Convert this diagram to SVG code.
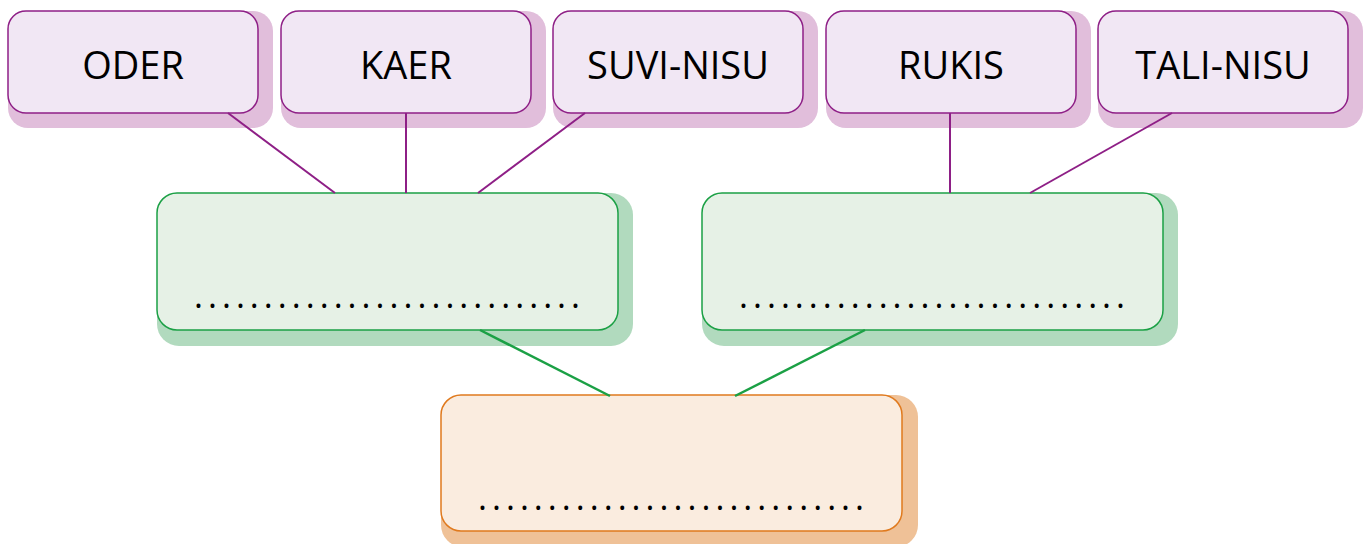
<svg xmlns="http://www.w3.org/2000/svg" width="1370" height="544" viewBox="0 0 1370 544">
<style>
.ts{fill:#E1BEDB}
.tb{fill:#F1E7F4;stroke:#8E1F86;stroke-width:1.5}
.gs{fill:#B1DABE}
.gb{fill:#E6F1E6;stroke:#1BA045;stroke-width:1.5}
.os{fill:#EFC197}
.ob{fill:#FAECDF;stroke:#E07A1E;stroke-width:1.5}
.lbl{font-family:"Open Sans","Liberation Sans",sans-serif;font-size:38px;fill:#000;text-anchor:middle}
.dots{font-family:"Open Sans","Liberation Sans",sans-serif;font-size:34px;fill:#000}
.pl{stroke:#8E1F86;stroke-width:2;fill:none}
.gl{stroke:#1BA045;stroke-width:2.5;fill:none}
</style>
<rect width="1370" height="544" fill="#fff"/>
<g id="oder">
<rect class="ts" x="8" y="11" width="265" height="117" rx="20"/>
<rect class="tb" x="8" y="11" width="250" height="102" rx="18"/>
<text class="lbl" x="133" y="79">ODER</text>
</g>
<g id="kaer">
<rect class="ts" x="281" y="11" width="265" height="117" rx="20"/>
<rect class="tb" x="281" y="11" width="250" height="102" rx="18"/>
<text class="lbl" x="406" y="79">KAER</text>
</g>
<g id="suvi-nisu">
<rect class="ts" x="553" y="11" width="265" height="117" rx="20"/>
<rect class="tb" x="553" y="11" width="250" height="102" rx="18"/>
<text class="lbl" x="678" y="79">SUVI-NISU</text>
</g>
<g id="rukis">
<rect class="ts" x="826" y="11" width="265" height="117" rx="20"/>
<rect class="tb" x="826" y="11" width="250" height="102" rx="18"/>
<text class="lbl" x="951" y="79">RUKIS</text>
</g>
<g id="tali-nisu">
<rect class="ts" x="1098" y="11" width="265" height="117" rx="20"/>
<rect class="tb" x="1098" y="11" width="250" height="102" rx="18"/>
<text class="lbl" x="1223" y="79">TALI-NISU</text>
</g>
<g id="green-left">
<rect class="gs" x="157" y="193" width="476" height="153" rx="22"/>
<rect class="gb" x="157" y="193" width="461" height="137" rx="20"/>
<text class="dots" x="194" y="308" textLength="386" lengthAdjust="spacing">............................</text>
</g>
<g id="green-right">
<rect class="gs" x="702" y="193" width="476" height="153" rx="22"/>
<rect class="gb" x="702" y="193" width="461" height="137" rx="20"/>
<text class="dots" x="739" y="308" textLength="386" lengthAdjust="spacing">............................</text>
</g>
<g id="orange">
<rect class="os" x="441" y="395" width="477" height="152" rx="22"/>
<rect class="ob" x="441" y="395" width="461" height="136" rx="20"/>
<text class="dots" x="478" y="510" textLength="386" lengthAdjust="spacing">............................</text>
</g>
<g id="connectors">
<line class="pl" x1="228" y1="113" x2="335" y2="193"/>
<line class="pl" x1="406" y1="113" x2="406" y2="193"/>
<line class="pl" x1="585" y1="113" x2="478" y2="193"/>
<line class="pl" x1="950" y1="113" x2="950" y2="193"/>
<line class="pl" x1="1172" y1="113" x2="1030" y2="193"/>
<line class="gl" x1="480" y1="330" x2="610" y2="396"/>
<line class="gl" x1="865" y1="330" x2="735" y2="396"/>
</g>
</svg>
